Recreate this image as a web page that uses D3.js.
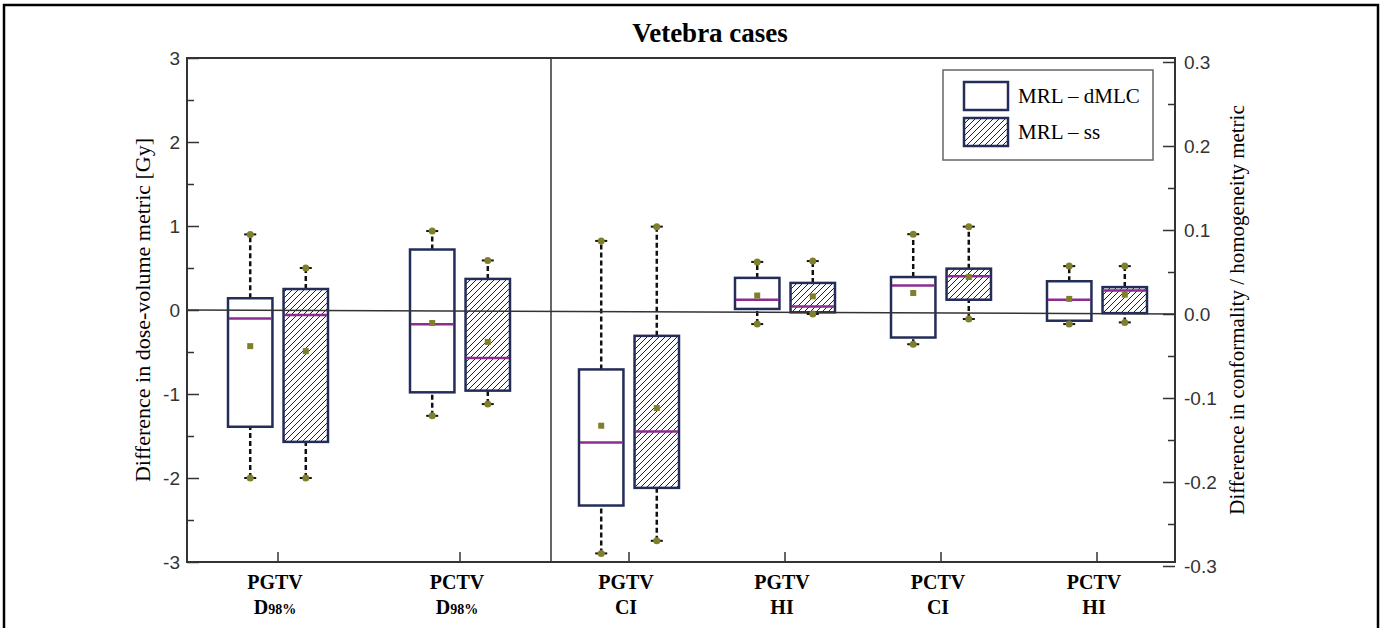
<!DOCTYPE html>
<html>
<head>
<meta charset="utf-8">
<script src="https://cdn.jsdelivr.net/npm/d3@7"></script>
<style>
  body { margin: 0; background: #fff; }
  svg { display: block; }
</style>
</head>
<body>
<svg id="chart"></svg>
<script>
// categories of the two panels
var leftCats = ["PGTV D98%", "PCTV D98%"];
var rightCats = ["PGTV CI", "PGTV HI", "PCTV CI", "PCTV HI"];
var series = ["MRL – dMLC", "MRL – ss"];

// each row: [min, q1, median, q3, max, mean]
// left panel in Gy, right panel as metric difference
var dmlcLeft = [
  [-2.00, -1.39, -0.10, 0.14, 0.90, -0.43],
  [-1.26, -0.98, -0.17, 0.72, 0.94, -0.155]
];
var ssLeft = [
  [-2.00, -1.57, -0.06, 0.25, 0.50, -0.49],
  [-1.12, -0.96, -0.57, 0.37, 0.59, -0.38]
];
var dmlcRight = [
  [-0.285, -0.228, -0.153, -0.066, 0.087, -0.133],
  [-0.012, 0.006, 0.017, 0.043, 0.062, 0.022],
  [-0.036, -0.028, 0.034, 0.044, 0.095, 0.025],
  [-0.012, -0.008, 0.017, 0.039, 0.057, 0.018]
];
var ssRight = [
  [-0.270, -0.207, -0.140, -0.026, 0.104, -0.112],
  [0.000, 0.002, 0.009, 0.037, 0.063, 0.021],
  [-0.006, 0.017, 0.045, 0.054, 0.104, 0.044],
  [-0.010, 0.001, 0.028, 0.032, 0.057, 0.023]
];

var leftTicks = [-3, -2.5, -2, -1.5, -1, -0.5, 0, 0.5, 1, 1.5, 2, 2.5, 3];
var rightTicks = [-0.3, -0.25, -0.2, -0.15, -0.1, -0.05, 0, 0.05, 0.1, 0.15, 0.2, 0.25, 0.3];

var screen = { width: 1383, height: 628 };
var plot = { left: 187, right: 1175, top: 58, bottom: 562, split: 551 };

var navy = "#242c58", purple = "#8c2c90", olive = "#80802c", axisCol = "#333";

var svg = d3.select("#chart")
  .attr("width", screen.width)
  .attr("height", screen.height);

var defs = svg.append("defs");
var pat = defs.append("pattern")
  .attr("id", "hatch")
  .attr("patternUnits", "userSpaceOnUse")
  .attr("width", 6)
  .attr("height", 6);
pat.append("rect").attr("width", 6).attr("height", 6).attr("fill", "#fff");
pat.append("path")
  .attr("d", "M-1,1 l2,-2 M0,6 l6,-6 M5,7 l2,-2")
  .attr("stroke", "#222")
  .attr("stroke-width", 1);

// outer frame
svg.append("rect")
  .attr("x", 4).attr("y", 5)
  .attr("width", 1374).attr("height", 660)
  .attr("fill", "none")
  .attr("stroke", "#000")
  .attr("stroke-width", 2.5);

var yL = d3.scaleLinear().domain([-3, 3]).range([plot.bottom, plot.top]);
var yR = d3.scaleLinear().domain([-0.3, 0.3]).range([plot.bottom + 4, plot.top + 4]);

var xLeft = d3.scaleBand().domain(leftCats).range([plot.left, plot.split]);
var xRight = d3.scaleBand().domain(rightCats).range([plot.split, plot.right]);
var sub = d3.scaleBand().domain(series).range([-50, 50]).paddingInner(0.2);

// title
svg.append("text")
  .attr("x", 710).attr("y", 42)
  .attr("text-anchor", "middle")
  .style("font-family", "'Liberation Serif', serif")
  .style("font-weight", "bold")
  .style("font-size", "27px")
  .text("Vetebra cases");

// left axis
var yAxisL = d3.axisLeft(yL)
  .tickValues(leftTicks)
  .tickSizeInner(-12)
  .tickSizeOuter(0)
  .tickPadding(7)
  .tickFormat(function(d) { return d % 1 === 0 ? String(d) : ""; });
var gL = svg.append("g")
  .attr("transform", "translate(" + plot.left + ",0)")
  .call(yAxisL);
gL.selectAll(".tick line")
  .attr("x2", function(d) { return d % 1 === 0 ? 12 : 7; });

// right axis
var yAxisR = d3.axisRight(yR)
  .tickValues(rightTicks)
  .tickSizeInner(-12)
  .tickSizeOuter(0)
  .tickPadding(9)
  .tickFormat(function(d, i) { return i % 2 === 0 ? d.toFixed(1) : ""; });
var gR = svg.append("g")
  .attr("transform", "translate(" + plot.right + ",0)")
  .call(yAxisR);
gR.select(".domain").remove();
gR.selectAll(".tick line")
  .attr("x2", function(d, i) { return i % 2 === 0 ? -12 : -7; });

[gL, gR].forEach(function(g) {
  g.selectAll("line").attr("stroke", axisCol).attr("stroke-width", 1.5);
  g.selectAll(".domain").attr("stroke", axisCol);
  g.selectAll("text")
    .attr("fill", "#333")
    .style("font-family", "'Liberation Sans', Arial, sans-serif")
    .style("font-size", "19px");
});

// bottom ticks
[xLeft, xRight].forEach(function(sc) {
  var g = svg.append("g")
    .attr("transform", "translate(0," + plot.bottom + ")")
    .call(d3.axisBottom(sc).tickSizeInner(-10).tickSizeOuter(0).tickFormat(""));
  g.select(".domain").remove();
  g.selectAll("line").attr("stroke", axisCol).attr("stroke-width", 1.5);
});

// plot frame and panel divider
svg.append("rect")
  .attr("x", plot.left).attr("y", plot.top)
  .attr("width", plot.right - plot.left)
  .attr("height", plot.bottom - plot.top)
  .attr("fill", "none")
  .attr("stroke", axisCol)
  .attr("stroke-width", 2);
svg.append("line")
  .attr("x1", plot.split).attr("x2", plot.split)
  .attr("y1", plot.top).attr("y2", plot.bottom)
  .attr("stroke", axisCol)
  .attr("stroke-width", 1.5);

// category labels
var catFont = "'Liberation Serif', serif";
function drawCatLabels(cats, sc) {
  cats.forEach(function(c) {
    var parts = c.split(" ");
    var cx = sc(c) + sc.bandwidth() / 2 - 3;
    svg.append("text")
      .attr("x", cx).attr("y", 589)
      .attr("text-anchor", "middle")
      .style("font-family", catFont)
      .style("font-weight", "bold")
      .style("font-size", "20px")
      .text(parts[0]);
    var t = svg.append("text")
      .attr("x", cx).attr("y", 614)
      .attr("text-anchor", "middle")
      .style("font-family", catFont)
      .style("font-weight", "bold")
      .style("font-size", "20px");
    if (parts[1].indexOf("D") === 0) {
      t.append("tspan").text("D");
      t.append("tspan").style("font-size", "14px").text(parts[1].slice(1));
    } else {
      t.text(parts[1]);
    }
  });
}
drawCatLabels(leftCats, xLeft);
drawCatLabels(rightCats, xRight);

// boxes
var boxLand = svg.append("g").classed("boxes", true);
var markLand = svg.append("g").classed("marks", true);

function drawBoxes(cats, sc, y, rows, s) {
  var bw = sub.bandwidth();
  rows.forEach(function(r, i) {
    var cx = sc(cats[i]) + sc.bandwidth() / 2 + sub(s) + bw / 2;
    var fill = s === series[0] ? "#fff" : "url(#hatch)";
    // whiskers
    boxLand.append("line")
      .attr("x1", cx).attr("x2", cx)
      .attr("y1", y(r[0])).attr("y2", y(r[1]))
      .attr("stroke", "#111").attr("stroke-width", 2.5)
      .attr("stroke-dasharray", "5,3");
    boxLand.append("line")
      .attr("x1", cx).attr("x2", cx)
      .attr("y1", y(r[3])).attr("y2", y(r[4]))
      .attr("stroke", "#111").attr("stroke-width", 2.5)
      .attr("stroke-dasharray", "5,3");
    boxLand.append("rect")
      .attr("x", cx - bw / 2)
      .attr("y", y(r[3]))
      .attr("width", bw)
      .attr("height", y(r[1]) - y(r[3]))
      .attr("fill", fill)
      .attr("stroke", navy)
      .attr("stroke-width", 2.5);
    boxLand.append("line")
      .attr("x1", cx - bw / 2 + 1).attr("x2", cx + bw / 2 - 1)
      .attr("y1", y(r[2])).attr("y2", y(r[2]))
      .attr("stroke", purple).attr("stroke-width", 2.5);
    // whisker caps
    [r[0], r[4]].forEach(function(v) {
      markLand.append("line")
        .attr("x1", cx - 6).attr("x2", cx + 6)
        .attr("y1", y(v)).attr("y2", y(v))
        .attr("stroke", "#111").attr("stroke-width", 2);
      markLand.append("circle")
        .attr("cx", cx).attr("cy", y(v))
        .attr("r", 3.5)
        .attr("fill", olive);
    });
    // mean
    markLand.append("rect")
      .attr("x", cx - 3).attr("y", y(r[5]) - 3)
      .attr("width", 6).attr("height", 6)
      .attr("fill", olive);
  });
}
drawBoxes(leftCats, xLeft, yL, dmlcLeft, series[0]);
drawBoxes(leftCats, xLeft, yL, ssLeft, series[1]);
drawBoxes(rightCats, xRight, yR, dmlcRight, series[0]);
drawBoxes(rightCats, xRight, yR, ssRight, series[1]);

// zero line, drawn across the boxes
svg.insert("line", ".marks")
  .attr("x1", plot.left).attr("x2", plot.right)
  .attr("y1", yL(0)).attr("y2", yR(0))
  .attr("stroke", axisCol)
  .attr("stroke-width", 1.5);

// axis titles
svg.append("text")
  .attr("transform", "translate(150," + ((plot.top + plot.bottom) / 2) + ") rotate(-90)")
  .attr("text-anchor", "middle")
  .style("font-family", "'Liberation Serif', serif")
  .style("font-size", "22px")
  .text("Difference in dose-volume metric [Gy]");
svg.append("text")
  .attr("transform", "translate(1244," + ((plot.top + plot.bottom) / 2) + ") rotate(-90)")
  .attr("text-anchor", "middle")
  .style("font-family", "'Liberation Serif', serif")
  .style("font-size", "21px")
  .text("Difference in conformality / homogeneity metric");

// legend
var legend = svg.append("g")
  .classed("legend", true)
  .attr("transform", "translate(943,70)");
legend.append("rect")
  .attr("width", 210).attr("height", 90)
  .attr("fill", "#fff")
  .attr("stroke", "#666")
  .attr("stroke-width", 1.5);
var legendLines = legend.selectAll("g.legendLine")
  .data(series)
  .enter()
  .append("g")
  .classed("legendLine", true)
  .attr("transform", function(d, i) { return "translate(21," + (12 + i * 36) + ")"; });
legendLines.append("rect")
  .attr("width", 44).attr("height", 28)
  .attr("fill", function(d, i) { return i === 0 ? "#fff" : "url(#hatch)"; })
  .attr("stroke", navy)
  .attr("stroke-width", 2.5);
legendLines.append("text")
  .attr("x", 54).attr("y", 21)
  .style("font-family", "'Liberation Serif', serif")
  .style("font-size", "21px")
  .text(function(d) { return d; });
</script>
</body>
</html>
